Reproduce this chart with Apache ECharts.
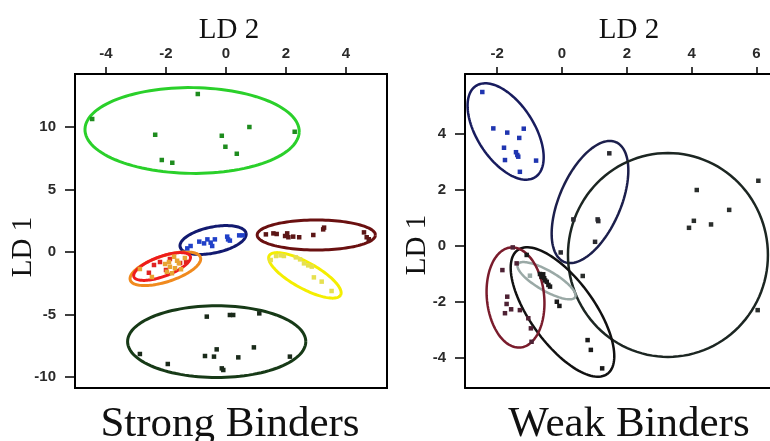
<!DOCTYPE html>
<html>
<head>
<meta charset="utf-8">
<script src="https://cdn.jsdelivr.net/npm/echarts@6/dist/echarts.min.js"></script>
<style>html,body{margin:0;padding:0;background:#fff}#c{width:770px;height:441px}</style>
</head>
<body>
<div id="c"></div>
<script>
// ---------- Tick labels ----------
const strongXTicks = [-4, -2, 0, 2, 4];
const strongYTicks = [-10, -5, 0, 5, 10];
const weakXTicks = [-2, 0, 2, 4, 6];
const weakYTicks = [-4, -2, 0, 2, 4];

// ---------- Strong binders: points [LD2, LD1] ----------
const strongGreen = [[-4.46,10.64],[-0.94,12.64],[-2.36,9.38],[-2.14,7.36],[-1.79,7.14],[-0.14,9.30],[-0.02,8.42],[0.36,7.86],[0.78,10.0],[2.29,9.62]];
const strongBlue = [[-1.29,0.29],[-1.18,0.48],[-0.89,0.83],[-0.73,0.69],[-0.62,1.01],[-0.51,0.75],[-0.46,0.48],[-0.37,1.01],[0.04,1.23],[0.07,1.01],[0.13,0.91],[0.44,1.33],[0.56,1.33]];
const strongMaroon = [[1.33,1.41],[1.58,1.49],[1.69,1.44],[1.97,1.28],[2.04,1.49],[2.08,1.18],[2.24,1.23],[2.44,1.18],[2.91,1.36],[3.24,1.81],[3.27,1.95],[4.6,1.57],[4.69,1.18],[4.76,1.02]];
const strongYellow = [[1.49,-0.64],[1.67,-0.32],[1.82,-0.27],[1.93,-0.32],[2.33,-0.43],[2.47,-0.59],[2.6,-0.91],[2.74,-1.07],[2.86,-1.17],[2.93,-2.03],[3.19,-2.37],[3.52,-3.12]];
const strongRed = [[-2.4,-1.04],[-2.57,-1.66],[-1.87,-0.56],[-1.53,-0.88],[-2.2,-0.8],[-2.0,-1.44],[-1.33,-0.8]];
const strongOrange = [[-2.87,-1.36],[-2.47,-2.0],[-2.03,-0.96],[-1.9,-0.8],[-1.73,-0.38],[-1.63,-0.7],[-1.57,-0.9],[-1.87,-1.18],[-1.7,-1.3],[-1.97,-1.58],[-1.8,-1.7],[-1.5,-1.38],[-1.37,-0.48]];
const strongDarkGreen = [[-2.87,-8.16],[-1.94,-8.96],[-0.7,-8.32],[-0.64,-5.17],[-0.4,-8.37],[-0.31,-7.79],[-0.14,-9.31],[-0.09,-9.44],[0.13,-5.04],[0.24,-5.04],[0.41,-8.43],[0.93,-7.63],[1.11,-4.91],[2.13,-8.37]];

// ---------- Strong binders: ellipses [cx, cy, ux, uy, vx, vy] (centre + conjugate semi-axes) ----------
const strongGreenEllipse = [-1.13, 9.72, 3.57, -0.12, 0.05, 3.43];
const strongBlueEllipse = [-0.43, 0.96, 1.1, 0.54, 0.086, -1.02];
const strongMaroonEllipse = [3.01, 1.36, 1.97, 0, 0, 1.2];
const strongYellowEllipse = [2.63, -1.87, 1.19, -1.576, -0.209, -0.912];
const strongOrangeEllipse = [-2.02, -1.34, 1.17, 0.91, 0.134, -0.99];
const strongRedEllipse = [-2.13, -1.16, 0.94, 0.82, 0.114, -0.75];
const strongDarkGreenEllipse = [-0.31, -7.17, 2.97, 0, 0, 2.87];

// ---------- Weak binders: points ----------
const weakBlue = [[-2.46,5.5],[-2.12,4.2],[-1.69,4.05],[-1.18,4.19],[-1.32,3.86],[-1.79,3.51],[-1.38,3.25],[-1.42,3.35],[-1.35,3.19],[-1.76,3.07],[-0.8,3.05],[-1.30,2.65]];
const weakNavy = [[1.46,3.31],[0.35,0.95],[1.12,0.89],[1.10,0.95],[1.02,0.15],[-0.04,-0.23]];
const weakCircle = [[4.16,2.0],[4.07,0.9],[3.92,0.65],[4.6,0.77],[5.16,1.29],[6.06,2.33],[6.04,-2.29],[0.64,-1.07]];
const weakBlack = [[-1.09,-0.32],[-0.16,-1.99],[-0.08,-2.14],[0.79,-3.36],[0.89,-3.71],[1.24,-4.37]];
const weakGrayDark = [[-0.68,-1.0],[-0.63,-1.1],[-0.55,-1.15],[-0.47,-1.28],[-0.42,-1.39],[-0.37,-1.45],[-0.58,-1.01],[-0.52,-1.23]];
const weakGrayLight = [[-0.99,-1.06]];
const weakMaroon = [[-1.84,-0.86],[-1.52,-0.05],[-1.69,-1.81],[-1.71,-2.07],[-1.57,-2.26],[-1.76,-2.4],[-1.3,-2.29],[-0.96,-2.94],[-0.94,-3.42],[-1.4,-0.62],[-1.04,-2.58]];

// ---------- Weak binders: ellipses ----------
const weakBlueEllipse = [-1.74, 4.09, 0.914, -1.63, -0.738, -0.554];
const weakNavyEllipse = [0.864, 1.571, 0.802, 2.136, 0.870, -0.436];
const weakCircleEllipse = [3.27, -0.32, 3.086, 0, 0, 3.64];
const weakBlackEllipse = [0.015, -2.357, 1.383, -2.211, -0.802, -0.671];
const weakGrayEllipse = [-0.478, -1.239, 0.883, -0.589, -0.154, -0.309];
const weakMaroonEllipse = [-1.435, -1.839, -0.154, 1.786, 0.88, 0.104];

// ---------- helpers ----------
function renderEllipse(params, api) {
  const cx = api.value(0), cy = api.value(1), ux = api.value(2), uy = api.value(3), vx = api.value(4), vy = api.value(5);
  const pts = [];
  const n = 120;
  for (let k = 0; k <= n; k++) {
    const t = k / n * Math.PI * 2;
    pts.push(api.coord([cx + ux * Math.cos(t) + vx * Math.sin(t), cy + uy * Math.cos(t) + vy * Math.sin(t)]));
  }
  return {type: 'polyline', shape: {points: pts}, style: {stroke: api.visual('color'), lineWidth: params.seriesName.indexOf('weak') === 0 ? 2.5 : 3, fill: null}};
}
function ellipse(name, data, color, idx) {
  return {name: name, type: 'custom', xAxisIndex: idx, yAxisIndex: idx, clip: true, silent: true,
    renderItem: renderEllipse, itemStyle: {color: color},
    dimensions: ['cx','cy','ux','uy','vx','vy'], encode: {x: 0, y: 1}, data: [data], z: 2};
}
function pts(name, data, color, idx, size) {
  return {name: name, type: 'scatter', xAxisIndex: idx, yAxisIndex: idx, symbol: 'rect', symbolSize: size || 4.5,
    itemStyle: {color: color, opacity: 1}, data: data, z: 3, silent: true};
}
const tickLabel = {fontFamily: 'Liberation Sans, Arial, sans-serif', fontSize: 15, fontWeight: 'bold', color: '#2a2a2a'};
const boxLine = {show: true, onZero: false, lineStyle: {color: '#000', width: 2}};
function xAxis(idx, min, max, ticks, showLine) {
  return {type: 'value', gridIndex: idx, position: 'top', min: min, max: max,
    axisLine: showLine ? boxLine : {show: false, onZero: false}, splitLine: {show: false},
    axisTick: {show: true, length: 7, customValues: ticks, lineStyle: {color: '#000', width: 1.5}},
    axisLabel: Object.assign({customValues: ticks, margin: 13}, tickLabel)};
}
function yAxis(idx, min, max, ticks, showLine) {
  return {type: 'value', gridIndex: idx, min: min, max: max,
    axisLine: showLine ? boxLine : {show: false, onZero: false}, splitLine: {show: false},
    axisTick: {show: true, length: 10, customValues: ticks, lineStyle: {color: '#000', width: 1.5}},
    axisLabel: Object.assign({customValues: ticks, margin: 19}, tickLabel)};
}

const serif = 'Liberation Serif, Times New Roman, serif';
const chart = echarts.init(document.getElementById('c'), null, {renderer: 'canvas'});
chart.setOption({
  animation: false,
  backgroundColor: '#fff',
  grid: [
    {left: 75, top: 74, width: 312, height: 314, show: true, borderColor: '#000', borderWidth: 2, backgroundColor: 'transparent'},
    {left: 465, top: 74, width: 305, height: 314, show: false}
  ],
  xAxis: [
    xAxis(0, -5.033, 5.367, strongXTicks, false),
    xAxis(1, -2.994, 6.42, weakXTicks, true),
    {type: 'value', gridIndex: 1, position: 'bottom', min: -2.994, max: 6.42, axisLine: boxLine,
      axisTick: {show: false}, axisLabel: {show: false}, splitLine: {show: false}}
  ],
  yAxis: [yAxis(0, -10.88, 14.24, strongYTicks, false), yAxis(1, -5.071, 6.143, weakYTicks, true)],
  graphic: [
    {type: 'text', x: 229, y: 30, style: {text: 'LD 2', font: '29px ' + serif, fill: '#111', align: 'center', verticalAlign: 'middle'}},
    {type: 'text', x: 629, y: 30, style: {text: 'LD 2', font: '29px ' + serif, fill: '#111', align: 'center', verticalAlign: 'middle'}},
    {type: 'text', x: 23, y: 247, rotation: Math.PI / 2, style: {text: 'LD 1', font: '29px ' + serif, fill: '#111', align: 'center', verticalAlign: 'middle'}},
    {type: 'text', x: 417, y: 245, rotation: Math.PI / 2, style: {text: 'LD 1', font: '29px ' + serif, fill: '#111', align: 'center', verticalAlign: 'middle'}},
    {type: 'text', x: 230, y: 425, style: {text: 'Strong Binders', font: '43px ' + serif, fill: '#111', align: 'center', verticalAlign: 'middle'}},
    {type: 'text', x: 629, y: 425, style: {text: 'Weak Binders', font: '43px ' + serif, fill: '#111', align: 'center', verticalAlign: 'middle'}}
  ],
  series: [
    ellipse('strongGreenEllipse', strongGreenEllipse, '#2ad02a', 0),
    ellipse('strongBlueEllipse', strongBlueEllipse, '#121a70', 0),
    ellipse('strongMaroonEllipse', strongMaroonEllipse, '#6a1010', 0),
    ellipse('strongYellowEllipse', strongYellowEllipse, '#f4ee00', 0),
    ellipse('strongOrangeEllipse', strongOrangeEllipse, '#f08a1e', 0),
    ellipse('strongRedEllipse', strongRedEllipse, '#ee1c1c', 0),
    ellipse('strongDarkGreenEllipse', strongDarkGreenEllipse, '#173a17', 0),
    pts('strongGreen', strongGreen, '#1e8c1e', 0),
    pts('strongBlue', strongBlue, '#2040c8', 0),
    pts('strongMaroon', strongMaroon, '#5c1616', 0),
    pts('strongYellow', strongYellow, '#e6e050', 0),
    pts('strongRed', strongRed, '#e02222', 0),
    pts('strongOrange', strongOrange, '#e8a432', 0),
    pts('strongDarkGreen', strongDarkGreen, '#1a2a1a', 0),
    ellipse('weakBlueEllipse', weakBlueEllipse, '#181c5e', 1),
    ellipse('weakNavyEllipse', weakNavyEllipse, '#1c1f4c', 1),
    ellipse('weakCircleEllipse', weakCircleEllipse, '#1c2622', 1),
    ellipse('weakBlackEllipse', weakBlackEllipse, '#111111', 1),
    ellipse('weakGrayEllipse', weakGrayEllipse, '#9aa9a6', 1),
    ellipse('weakMaroonEllipse', weakMaroonEllipse, '#7a1c2c', 1),
    pts('weakBlue', weakBlue, '#1f35b0', 1),
    pts('weakNavy', weakNavy, '#2a2a30', 1),
    pts('weakCircle', weakCircle, '#2a2e2c', 1),
    pts('weakBlack', weakBlack, '#1a1a1a', 1),
    pts('weakGrayDark', weakGrayDark, '#1a1a1a', 1),
    pts('weakGrayLight', weakGrayLight, '#9aa9a6', 1),
    pts('weakMaroon', weakMaroon, '#4e2234', 1)
  ]
});
</script>
</body>
</html>
